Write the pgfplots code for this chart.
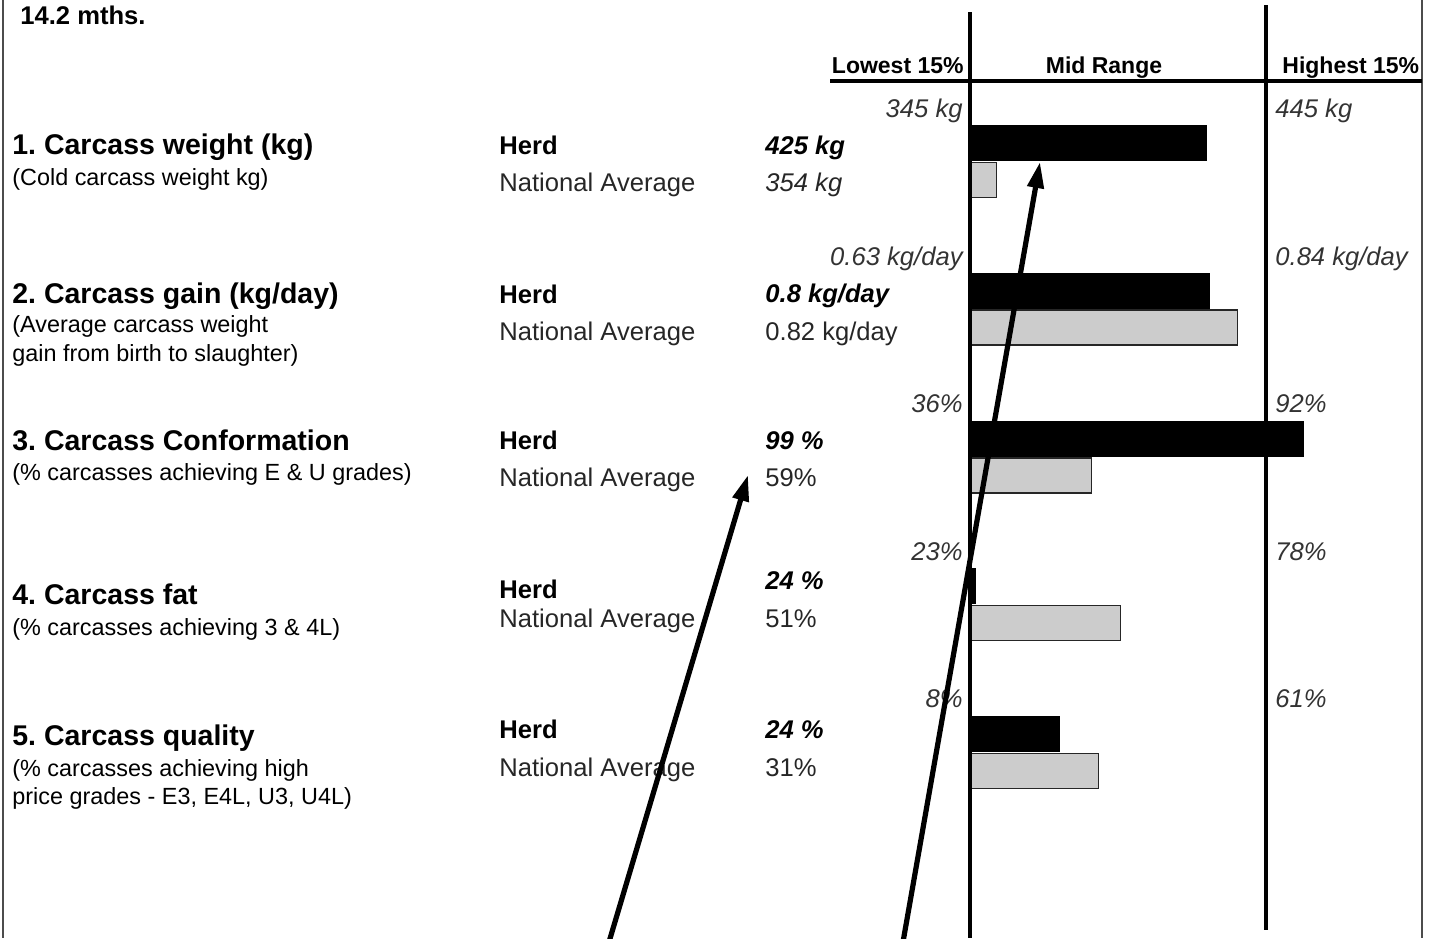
\documentclass[border=0pt]{standalone}
\usepackage{pgfplots}
\pgfplotsset{compat=1.18}
\usepackage{pgfplotstable}
\usepackage{fontspec}
\setmainfont{Liberation Sans}
\usetikzlibrary{arrows.meta}
\frenchspacing

% y = bar centre (px from top), value, lowest-15% and highest-15% limits
\pgfplotstableread{
id yh   herd yn   nat  lo   hi
1  143   425 180   354  345  445
2  290.5 0.80 327.5 0.82 0.63 0.84
3  438.5 99  475.5 59   36   92
4  586   24  623   51   23   78
5  734   24  771   31   8    61
}\carcass

\newcommand\ttl{\fontsize{14.25}{17}\selectfont\bfseries}
\newcommand\sub{\fontsize{11.7}{14.2}\selectfont}
\newcommand\txt{\fontsize{12.8}{15}\selectfont}
\newcommand\hdr{\fontsize{11.5}{14}\selectfont\bfseries}

\begin{document}
\begin{tikzpicture}[x=0.5pt,y=-0.5pt]
\path[use as bounding box] (0,0) rectangle (1435,938);

\begin{axis}[at={(0,0)}, anchor=north west, scale only axis,
  width=717.5pt, height=469pt,
  xmin=-3.2770, xmax=1.5709, ymin=0, ymax=938, y dir=reverse,
  axis lines=none, xbar, bar shift=0pt, bar width=17.5pt, clip=false]
  \addplot[fill=black, draw=black] table[y=yh,
    x expr={(\thisrow{herd}-\thisrow{lo})/(\thisrow{hi}-\thisrow{lo})}]{\carcass};
  \addplot[fill=gray!40, draw=black!85, line width=0.6pt] table[y=yn,
    x expr={(\thisrow{nat}-\thisrow{lo})/(\thisrow{hi}-\thisrow{lo})}]{\carcass};
\end{axis}

% frame and range lines
\draw[line width=1pt, black!70] (3,0) -- (3,938);
\draw[line width=1pt, black!70] (1422,0) -- (1422,938);
\draw[line width=2pt] (970,12) -- (970,938);
\draw[line width=2pt] (1266,5) -- (1266,930);
\draw[line width=1.6pt] (830,81) -- (1422,81);

% headers
\node[anchor=base west, inner sep=0] at (20,24) {\txt\bfseries 14.2 mths.};
\node[anchor=base east, inner sep=0] at (964,73) {\hdr Lowest 15\%};
\node[anchor=base, inner sep=0] at (1104,73) {\hdr Mid Range};
\node[anchor=base west, inner sep=0] at (1282,73) {\hdr Highest 15\%};

% range limits
\foreach \y/\l/\h in {117/{345 kg}/{445 kg}, 265/{0.63 kg/day}/{0.84 kg/day},
    412/{36\%}/{92\%}, 560/{23\%}/{78\%}, 707/{8\%}/{61\%}}{
  \node[anchor=base east, inner sep=0, black!80] at (963,\y) {\txt\itshape \l};
  \node[anchor=base west, inner sep=0, black!80] at (1275,\y) {\txt\itshape \h};
}

% metric titles
\node[anchor=base west, inner sep=0] at (12,154) {\ttl 1. Carcass weight (kg)};
\node[anchor=base west, inner sep=0] at (12,185.5) {\sub (Cold carcass weight kg)};
\node[anchor=base west, inner sep=0] at (12,303) {\ttl 2. Carcass gain (kg/day)};
\node[anchor=base west, inner sep=0] at (12,332.5) {\sub (Average carcass weight};
\node[anchor=base west, inner sep=0] at (12,361.5) {\sub gain from birth to slaughter)};
\node[anchor=base west, inner sep=0] at (12,450) {\ttl 3. Carcass Conformation};
\node[anchor=base west, inner sep=0] at (12,480.5) {\sub (\% carcasses achieving E \& U grades)};
\node[anchor=base west, inner sep=0] at (12,604) {\ttl 4. Carcass fat};
\node[anchor=base west, inner sep=0] at (12,635.5) {\sub (\% carcasses achieving 3 \& 4L)};
\node[anchor=base west, inner sep=0] at (12,745) {\ttl 5. Carcass quality};
\node[anchor=base west, inner sep=0] at (12,776.5) {\sub (\% carcasses achieving high};
\node[anchor=base west, inner sep=0] at (12,804.5) {\sub price grades - E3, E4L, U3, U4L)};

% herd / national labels and values
\foreach \yh/\yn in {154/191, 303/340, 449/486, 598/627, 738/776}{
  \node[anchor=base west, inner sep=0] at (499,\yh) {\txt\bfseries Herd};
  \node[anchor=base west, inner sep=0, black!85] at (499,\yn) {\txt National Average};
}
\node[anchor=base west, inner sep=0] at (765,154) {\txt\bfseries\itshape 425 kg};
\node[anchor=base west, inner sep=0, black!85] at (765,191) {\txt\itshape 354 kg};
\node[anchor=base west, inner sep=0] at (765,302) {\txt\bfseries\itshape 0.8 kg/day};
\node[anchor=base west, inner sep=0, black!85] at (765,340) {\txt 0.82 kg/day};
\node[anchor=base west, inner sep=0] at (765,449) {\txt\bfseries\itshape 99 \%};
\node[anchor=base west, inner sep=0, black!85] at (765,486) {\txt 59\%};
\node[anchor=base west, inner sep=0] at (765,589) {\txt\bfseries\itshape 24 \%};
\node[anchor=base west, inner sep=0, black!85] at (765,627) {\txt 51\%};
\node[anchor=base west, inner sep=0] at (765,738) {\txt\bfseries\itshape 24 \%};
\node[anchor=base west, inner sep=0, black!85] at (765,776) {\txt 31\%};

% arrows
\draw[line width=2.6pt, -{Triangle[length=13pt,width=8pt]}] (609,942) -- (748,475);
\draw[line width=2.6pt, -{Triangle[length=13pt,width=8pt]}] (903,942) -- (1040,162);
\end{tikzpicture}
\end{document}
